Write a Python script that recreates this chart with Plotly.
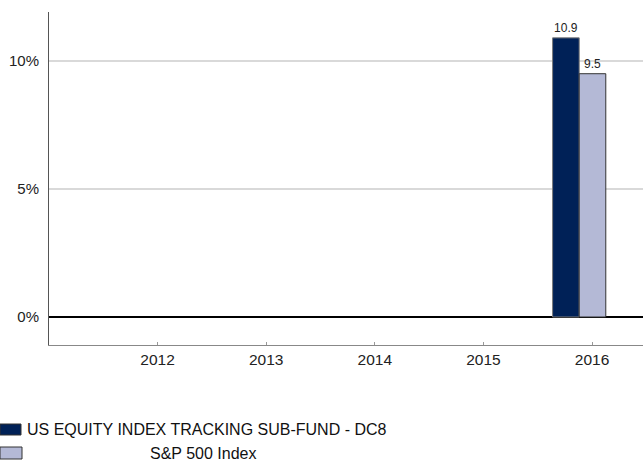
import plotly.graph_objects as go

years = [2012, 2013, 2014, 2015, 2016]
tick_labels = ["2012", "2013", "2014", "2015", "2016"]
fund_name = "US EQUITY INDEX TRACKING SUB-FUND - DC8"
index_name = "S&P 500 Index"
bar_years = [2016]
fund_values = [10.9]
index_values = [9.5]
y_ticks = [0, 5, 10]
y_tick_labels = ["0%", "5%", "10%"]

dark = "#002157"
light = "#B4B9D6"
font = "Liberation Sans, Arial, sans-serif"

W, H = 643, 463
L, R, T, B = 49, 0, 12, H - 345
pw, ph = W - L - R, H - T - B

def px(x):
    return (x - L) / pw

def py(y):
    return (H - B - y) / ph

fig = go.Figure()
fig.add_trace(go.Bar(
    x=bar_years, y=fund_values, name=fund_name,
    marker=dict(color=dark, line=dict(color="#7a7a7a", width=1)),
    width=0.245, offset=-0.363,
    text=[f"{v:.1f}" for v in fund_values], textposition="outside",
    textfont=dict(size=12, color="#222"), cliponaxis=False,
))
fig.add_trace(go.Bar(
    x=bar_years, y=index_values, name=index_name,
    marker=dict(color=light, line=dict(color="#333", width=1)),
    width=0.245, offset=-0.118,
    text=[f"{v:.1f}" for v in index_values], textposition="outside",
    textfont=dict(size=12, color="#222"), cliponaxis=False,
))

fig.update_layout(
    width=W, height=H,
    margin=dict(l=L, r=R, t=T, b=B),
    plot_bgcolor="white", paper_bgcolor="white",
    barmode="overlay", showlegend=False,
    font=dict(family=font, color="#222", size=15),
)
fig.update_xaxes(
    range=[2011, 2011 + pw / 108.6],
    tickvals=years, ticktext=tick_labels,
    showgrid=False, zeroline=False,
    showline=True, linecolor="#888", linewidth=1,
    ticks="inside", ticklen=3, tickcolor="#999",
    tickfont=dict(size=15.5, color="#222"),
)
fig.update_yaxes(
    range=[-1.094, 11.91],
    tickvals=y_ticks, ticktext=y_tick_labels,
    showgrid=True, gridcolor="#d9d9d9", gridwidth=1.5,
    zeroline=True, zerolinecolor="#000", zerolinewidth=2,
    showline=True, linecolor="#555", linewidth=1,
    ticks="", ticklabelstandoff=6,
    tickfont=dict(size=15, color="#222"),
)

# manual legend
legend_items = [(fund_name, dark, "#333", 424, 435, 21, 207, 430),
                (index_name, light, "#333", 447, 459, 22, 203, 453)]
for name, fill, edge, y0, y1, w, cx, cy in legend_items:
    fig.add_shape(type="rect", xref="paper", yref="paper",
                  x0=px(0), x1=px(w), y0=py(y1), y1=py(y0),
                  fillcolor=fill, line=dict(color=edge, width=1))
    fig.add_annotation(xref="paper", yref="paper", x=px(cx), y=py(cy),
                       text=name, showarrow=False, xanchor="center", yanchor="middle",
                       font=dict(size=16, color="#111", family=font))

fig.write_html(
    "out.html",
    config={"displayModeBar": False},
    post_script="document.body.style.margin='0';document.documentElement.style.overflow='hidden';",
)
